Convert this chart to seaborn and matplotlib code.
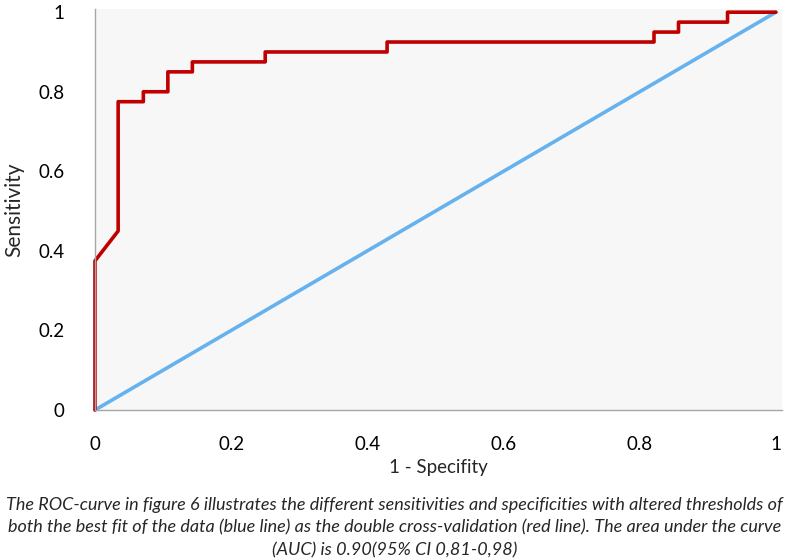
import matplotlib
matplotlib.use("Agg")
import matplotlib.pyplot as plt
import seaborn as sns
import pandas as pd

# ROC curve of the double cross-validation (red), corner points
fpr_cv = [0.0, 0.0, 0.0, 0.034, 0.034, 0.071, 0.071, 0.107, 0.107, 0.143, 0.143,
          0.25, 0.25, 0.429, 0.429, 0.821, 0.821, 0.857, 0.857, 0.929, 0.929, 1.0]
tpr_cv = [0.0, 0.375, 0.375, 0.45, 0.775, 0.775, 0.80, 0.80, 0.85, 0.85, 0.875,
          0.875, 0.90, 0.90, 0.925, 0.925, 0.95, 0.95, 0.975, 0.975, 1.0, 1.0]

# best fit of the data (blue)
fpr_fit = [0.0, 1.0]
tpr_fit = [0.0, 1.0]

tick_vals = [0, 0.2, 0.4, 0.6, 0.8, 1]
tick_labels = ["0", "0.2", "0.4", "0.6", "0.8", "1"]

caption_lines = [
    "The ROC-curve in figure 6 illustrates the different sensitivities and specificities with altered thresholds of",
    "both the best fit of the data (blue line) as the double cross-validation (red line). The area under the curve",
    "(AUC) is 0.90(95% CI 0,81-0,98)",
]

sns.set_style("white")
plt.rcParams["font.family"] = ["Lato", "DejaVu Sans"]

fig = plt.figure(figsize=(7.89, 5.60), dpi=100)
ax = fig.add_axes([95 / 789, 150 / 560, 687 / 789, 401 / 560])
ax.set_facecolor("#f7f7f7")

sns.lineplot(x=fpr_fit, y=tpr_fit, ax=ax, color="#66b2ee", linewidth=2.6,
             sort=False, estimator=None)
sns.lineplot(x=fpr_cv, y=tpr_cv, ax=ax, color="#c00000", linewidth=2.6,
             sort=False, estimator=None)
for ln in ax.lines:
    ln.set_clip_on(False)

ax.set_xlim(0, 1.009)
ax.set_ylim(0, 1.008)
ax.set_xticks(tick_vals)
ax.set_xticklabels(tick_labels, fontsize=13.5)
ax.set_yticks(tick_vals)
ax.set_yticklabels(tick_labels, fontsize=13.5)

for s in ["top", "right"]:
    ax.spines[s].set_visible(False)
for s in ["left", "bottom"]:
    ax.spines[s].set_color("#a6a6a6")
    ax.spines[s].set_linewidth(1.0)

ax.tick_params(axis="x", direction="out", length=7, width=1, color="#a6a6a6",
               pad=12, labelcolor="black")
ax.tick_params(axis="y", length=0, pad=22, labelcolor="black")

ax.set_xlabel("1 - Specifity", fontsize=13.5, labelpad=4)
ax.set_ylabel("Sensitivity", fontsize=15, labelpad=10)

# caption, one text per line so the spacing matches the source
for i, line in enumerate(caption_lines):
    fig.text(0.5, 1 - (505 + 22.5 * i) / 560, line, ha="center", va="center",
             fontsize=13, style="italic")

fig.savefig("out.png", dpi=100)
